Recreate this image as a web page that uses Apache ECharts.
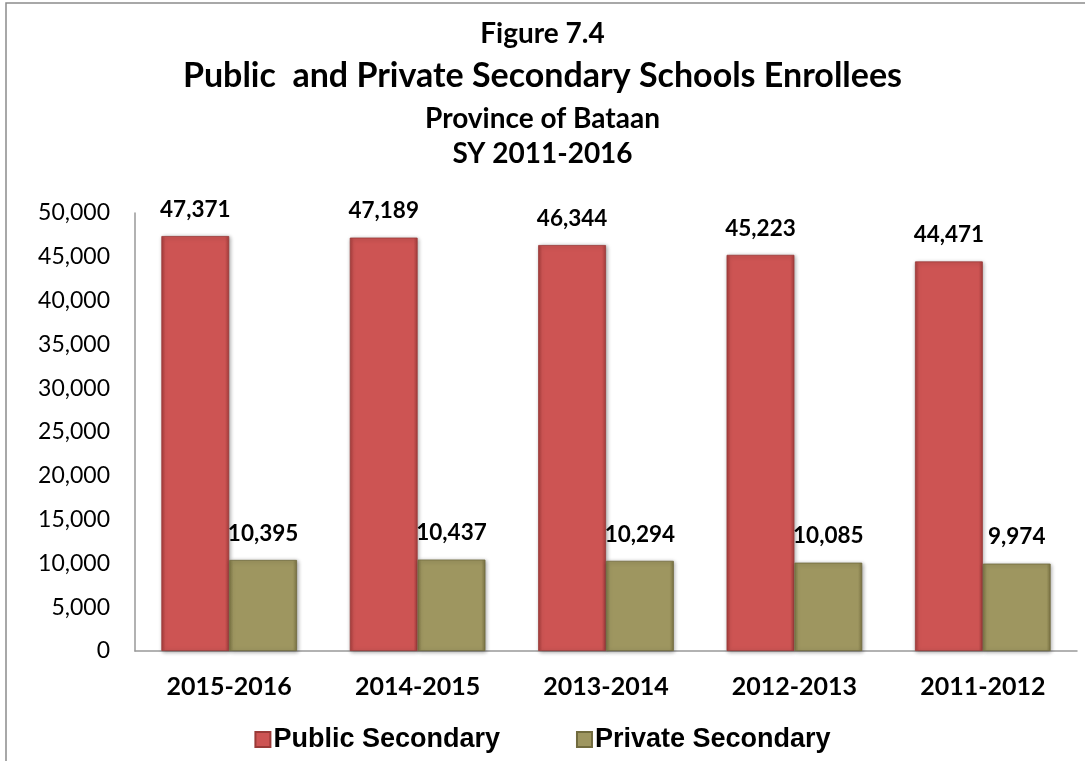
<!DOCTYPE html>
<html><head><meta charset="utf-8">
<script src="https://cdn.jsdelivr.net/npm/echarts@6/dist/echarts.min.js"></script>
<style>html,body{margin:0;padding:0;background:#fff}#c{width:1085px;height:761px}</style>
</head><body><div id="c"></div>
<script>
var categories = ['2015-2016','2014-2015','2013-2014','2012-2013','2011-2012'];
var publicSecondary = [47371, 47189, 46344, 45223, 44471];
var privateSecondary = [10395, 10437, 10294, 10085, 9974];
var seriesNames = ['Public Secondary','Private Secondary'];

function bevel(base, dark){
  return new echarts.graphic.LinearGradient(0,0,1,0,[
    {offset:0,color:dark},{offset:0.06,color:base},{offset:0.94,color:base},{offset:1,color:dark}
  ]);
}
var F = 'Lato, "Open Sans", sans-serif';
var chart = echarts.init(document.getElementById('c'));
chart.setOption({
  animation:false,
  graphic:[{type:'rect',shape:{x:6,y:3,width:1200,height:900},style:{fill:'none',stroke:'#8c8c8c',lineWidth:1.5},silent:true}],
  title:[
    {text:'Figure 7.4',left:'center',top:15,textStyle:{fontFamily:F,fontSize:28,fontWeight:'bold',color:'#000'}},
    {text:'Public  and Private Secondary Schools Enrollees',left:'center',top:54,textStyle:{fontFamily:F,fontSize:34,fontWeight:'bold',color:'#000'}},
    {text:'Province of Bataan',left:'center',top:100,textStyle:{fontFamily:F,fontSize:28,fontWeight:'bold',color:'#000'}},
    {text:'SY 2011-2016',left:'center',top:135,textStyle:{fontFamily:F,fontSize:28,fontWeight:'bold',color:'#000'}}
  ],
  legend:{top:721,left:'center',itemWidth:15,itemHeight:15,itemGap:76,icon:'rect',
    textStyle:{fontFamily:'"Liberation Sans", Arial, sans-serif',fontSize:27,fontWeight:'bold',color:'#000',padding:[0,0,0,-2]},
    data:seriesNames},
  grid:{left:135,right:8,top:213,bottom:110,containLabel:false},
  xAxis:{type:'category',data:categories,
    axisLine:{lineStyle:{color:'#999',width:1.5}},axisTick:{show:false},
    axisLabel:{fontFamily:F,fontSize:25,fontWeight:'bold',color:'#000',margin:23}},
  yAxis:{type:'value',min:0,max:50000,interval:5000,
    axisLine:{show:true,lineStyle:{color:'#999',width:1.5}},axisTick:{show:false},splitLine:{show:false},
    axisLabel:{fontFamily:F,fontSize:23,color:'#000',margin:25,
      formatter:function(v){return v.toLocaleString('en-US');}}},
  series:[
    {name:seriesNames[0],type:'bar',data:publicSecondary,barGap:'0%',barCategoryGap:'28%',
      itemStyle:{color:bevel('#cd5453','#a83e3d'),borderColor:'#9a3a38',borderWidth:0.8,shadowBlur:4,shadowColor:'rgba(0,0,0,0.35)',shadowOffsetX:1,shadowOffsetY:1},
      label:{show:true,position:'top',distance:15,fontFamily:F,fontSize:22.5,fontWeight:'bold',color:'#000',
        formatter:function(p){return p.value.toLocaleString('en-US');}}},
    {name:seriesNames[1],type:'bar',data:privateSecondary,
      itemStyle:{color:bevel('#9e9660','#7d7645'),borderColor:'#716b3e',borderWidth:0.8,shadowBlur:4,shadowColor:'rgba(0,0,0,0.35)',shadowOffsetX:1,shadowOffsetY:1},
      label:{show:true,position:'top',distance:15,fontFamily:F,fontSize:22.5,fontWeight:'bold',color:'#000',
        formatter:function(p){return p.value.toLocaleString('en-US');}}}
  ]
});
</script></body></html>
